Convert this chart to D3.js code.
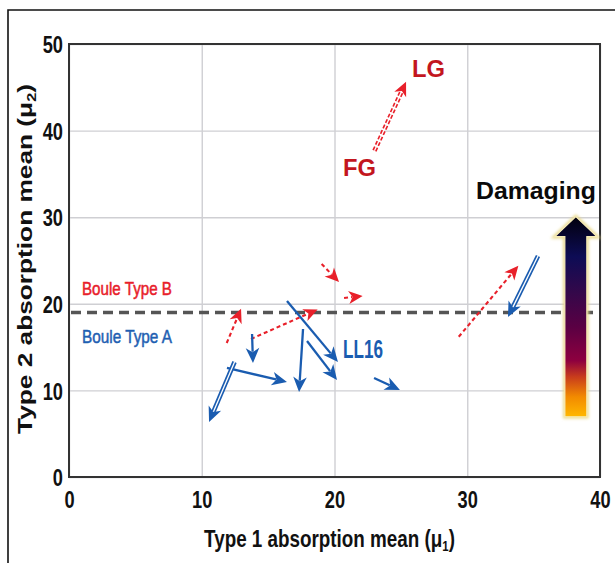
<!DOCTYPE html>
<html><head><meta charset="utf-8">
<script src="https://cdn.jsdelivr.net/npm/d3@7/dist/d3.min.js"></script>
<style>
html,body{margin:0;padding:0;background:#fff;}
svg{display:block;font-family:"Liberation Sans",Arial,sans-serif;}
</style></head>
<body>
<svg id="chart" width="615" height="563"></svg>
<script>
// ---- data ----
const xTicks = [0, 10, 20, 30, 40];
const yTicks = [0, 10, 20, 30, 40, 50];
const thresholdY = 19.0;
// red (Boule Type B) trajectories: [x1, y1, x2, y2]
const redArrows = [
  [19.03, 24.60, 20.34, 22.52],
  [20.72, 20.67, 22.12, 20.90],
  [11.88, 15.47, 12.96, 19.42],
  [13.71, 15.94, 18.73, 19.34],
  [29.36, 16.19, 33.85, 24.40]
];
const redDoubleArrows = [
  [23.01, 37.67, 25.39, 45.63]   // FG -> LG
];
// blue (Boule Type A) trajectories
const blueArrows = [
  [16.42, 20.32, 20.26, 13.28],
  [17.93, 15.70, 20.19, 11.20],
  [17.63, 17.09, 17.33, 9.82],
  [13.79, 16.51, 13.86, 13.16],
  [11.90, 12.59, 16.42, 10.97],
  [22.98, 11.43, 24.93, 10.05]
];
const blueDoubleArrows = [
  [12.47, 13.28, 10.55, 6.35],
  [35.33, 25.52, 33.07, 18.48]
];
const labels = [
  {text: "LG", x: 25.84, y: 46.19},
  {text: "FG", x: 20.64, y: 34.76},
  {text: "LL16", x: 20.64, y: 13.74},
  {text: "Damaging", x: 30.66, y: 32.1},
  {text: "Boule Type B", x: 0.98, y: 21.0},
  {text: "Boule Type A", x: 0.98, y: 15.47}
];
const damaging = {xc: 38.18, yBottom: 6.96, yHeadBase: 27.75, yTip: 30.06};

// ---- layout ----
const svg = d3.select("#chart");
const L = 69, R = 600, T = 44, B = 477;
const x = d3.scaleLinear().domain([0, 40]).range([L, R]);
const y = d3.scaleLinear().domain([0, 50]).range([B, T]);

const RED = "#e8202a", DRED = "#c3161e", BLUE = "#1a5cb0";

// outer border
svg.append("path").attr("d", `M8,563 L8,10 L615,10`).attr("fill", "none")
  .attr("stroke", "#111").attr("stroke-width", 1.6);

// gradient defs
const defs = svg.append("defs");
const g1 = defs.append("linearGradient").attr("id", "dmg").attr("x1", 0).attr("y1", 1).attr("x2", 0).attr("y2", 0);
[["0%", "#ffb800"], ["10%", "#f28a00"], ["20%", "#c83c1c"], ["28%", "#8e003f"], ["45%", "#5a0043"],
 ["62%", "#34084a"], ["80%", "#0d0c55"], ["100%", "#02000c"]].forEach(s =>
  g1.append("stop").attr("offset", s[0]).attr("stop-color", s[1]));
const f = defs.append("filter").attr("id", "glow").attr("x", "-30%").attr("y", "-10%").attr("width", "160%").attr("height", "120%");
f.append("feGaussianBlur").attr("stdDeviation", 1.6);

// grid
svg.append("g").attr("transform", `translate(0,${B})`)
  .call(d3.axisBottom(x).tickValues(xTicks).tickSize(-(B - T)).tickFormat(""))
  .call(g => { g.select(".domain").remove(); g.selectAll("line").attr("stroke", "#cfcfd3").attr("stroke-width", 1.4); });
svg.append("g").attr("transform", `translate(${L},0)`)
  .call(d3.axisLeft(y).tickValues(yTicks).tickSize(-(R - L)).tickFormat(""))
  .call(g => { g.select(".domain").remove(); g.selectAll("line").attr("stroke", "#cfcfd3").attr("stroke-width", 1.4); });

// threshold dashed line
svg.append("line").attr("x1", L + 2).attr("x2", R).attr("y1", y(thresholdY)).attr("y2", y(thresholdY))
  .attr("stroke", "#555").attr("stroke-width", 3.6).attr("stroke-dasharray", "10,6");

// frame
svg.append("rect").attr("x", L).attr("y", T).attr("width", R - L).attr("height", B - T)
  .attr("fill", "none").attr("stroke", "#333").attr("stroke-width", 2);

// axes tick labels
const SX = 0.76;
const xa = svg.append("g").attr("transform", `translate(0,${B})`)
  .call(d3.axisBottom(x).tickValues(xTicks).tickSize(0).tickPadding(0));
xa.select(".domain").remove();
xa.selectAll("text").attr("font-family", "Liberation Sans, Arial, sans-serif")
  .attr("font-size", 24).attr("font-weight", "bold").attr("fill", "#111")
  .attr("y", 0).attr("dy", 0).attr("transform", `translate(0,31) scale(${SX},1)`);
const ya = svg.append("g").attr("transform", `translate(${L},0)`)
  .call(d3.axisLeft(y).tickValues(yTicks).tickSize(0).tickPadding(0));
ya.select(".domain").remove();
ya.selectAll("text").attr("font-family", "Liberation Sans, Arial, sans-serif")
  .attr("font-size", 24).attr("font-weight", "bold").attr("fill", "#111")
  .attr("x", 0).attr("dy", "0.36em").attr("transform", `translate(-6,0) scale(${SX},1)`);

// helper: scale text horizontally to target width
function fit(sel, ax, ay, w, extra) {
  const cur = sel.node().getComputedTextLength();
  const s = w / cur;
  sel.attr("x", 0).attr("y", 0).attr("transform", `translate(${ax},${ay}) ${extra || ""} scale(${s},1)`);
}

// axis titles
const xt = svg.append("text").attr("text-anchor", "middle").attr("font-size", 23).attr("font-weight", "bold").attr("fill", "#111");
xt.append("tspan").text("Type 1 absorption mean (μ");
xt.append("tspan").attr("font-size", 14).attr("dy", 4).text("1");
xt.append("tspan").attr("dy", -4).text(")");
fit(xt, 329.5, 547, 251);

const yt = svg.append("text").attr("text-anchor", "middle").attr("font-size", 21).attr("font-weight", "bold").attr("fill", "#111");
yt.append("tspan").text("Type 2 absorption mean (μ");
yt.append("tspan").attr("font-size", 13).attr("dy", 4).text("2");
yt.append("tspan").attr("dy", -4).text(")");
fit(yt, 32, 259, 350, "rotate(-90)");

// arrow helpers
function head(g, x1, y1, x2, y2, len, hw, color) {
  const ang = Math.atan2(y2 - y1, x2 - x1);
  const bx = x2 - len * Math.cos(ang), by = y2 - len * Math.sin(ang);
  const px = -Math.sin(ang) * hw, py = Math.cos(ang) * hw;
  const nb = x2 - len * 0.72 * Math.cos(ang), nby = y2 - len * 0.72 * Math.sin(ang);
  g.append("path").attr("d", `M${x2},${y2} L${bx + px},${by + py} L${nb},${nby} L${bx - px},${by - py} Z`).attr("fill", color);
}
function drawArrow(d, color, opts) {
  const x1 = x(d[0]), y1 = y(d[1]), x2 = x(d[2]), y2 = y(d[3]);
  const g = svg.append("g");
  const ang = Math.atan2(y2 - y1, x2 - x1);
  const len = opts.head, cut = len * 0.75;
  const ex = x2 - cut * Math.cos(ang), ey = y2 - cut * Math.sin(ang);
  if (opts.double) {
    g.append("line").attr("x1", x1).attr("y1", y1).attr("x2", ex).attr("y2", ey)
      .attr("stroke", color).attr("stroke-width", 4.6).attr("stroke-dasharray", opts.dash || null);
    g.append("line").attr("x1", x1).attr("y1", y1).attr("x2", ex).attr("y2", ey)
      .attr("stroke", "#fff").attr("stroke-width", 1.3);
  } else {
    g.append("line").attr("x1", x1).attr("y1", y1).attr("x2", ex).attr("y2", ey)
      .attr("stroke", color).attr("stroke-width", opts.w).attr("stroke-dasharray", opts.dash || null);
  }
  head(g, x1, y1, x2, y2, len, opts.hw, color);
}
redArrows.forEach(d => drawArrow(d, RED, {w: 2.1, dash: "4,3", head: 14, hw: 6.5}));
redDoubleArrows.forEach(d => drawArrow(d, RED, {double: true, dash: "4,2", head: 14, hw: 6.5}));
blueArrows.forEach(d => drawArrow(d, BLUE, {w: 2.3, head: 15, hw: 6.8}));
blueDoubleArrows.forEach(d => drawArrow(d, BLUE, {double: true, head: 15, hw: 6.8}));

// damaging gradient arrow
const sw = 11, hw2 = 21;
const xc = x(damaging.xc);
const pts = [[xc - sw, y(damaging.yBottom)], [xc - sw, y(damaging.yHeadBase)], [xc - hw2, y(damaging.yHeadBase)],
  [xc, y(damaging.yTip)], [xc + hw2, y(damaging.yHeadBase)], [xc + sw, y(damaging.yHeadBase)], [xc + sw, y(damaging.yBottom)]];
const pd = "M" + pts.map(p => p.join(",")).join("L") + "Z";
svg.append("path").attr("d", pd).attr("fill", "none").attr("stroke", "#e9d98a").attr("stroke-width", 3.5).attr("filter", "url(#glow)");
svg.append("path").attr("d", pd).attr("fill", "url(#dmg)").attr("stroke", "#f6ebb8").attr("stroke-width", 1.2);

// labels
const lstyle = {
  "LG": {size: 24, w: 33, color: DRED},
  "FG": {size: 24, w: 33, color: DRED},
  "LL16": {size: 25, w: 40, color: BLUE},
  "Damaging": {size: 23, w: 120, color: "#0a0a0a"},
  "Boule Type B": {size: 18, w: 90, color: RED, weight: "normal", stroke: 0.5},
  "Boule Type A": {size: 18, w: 90, color: "#1f5fb2", weight: "normal", stroke: 0.5}
};
labels.forEach(l => {
  const s = lstyle[l.text];
  const t = svg.append("text").attr("font-size", s.size).attr("font-weight", s.weight || "bold")
    .attr("fill", s.color).text(l.text);
  if (s.stroke) t.attr("stroke", s.color).attr("stroke-width", s.stroke);
  fit(t, x(l.x), y(l.y), s.w);
});
</script>
</body></html>
